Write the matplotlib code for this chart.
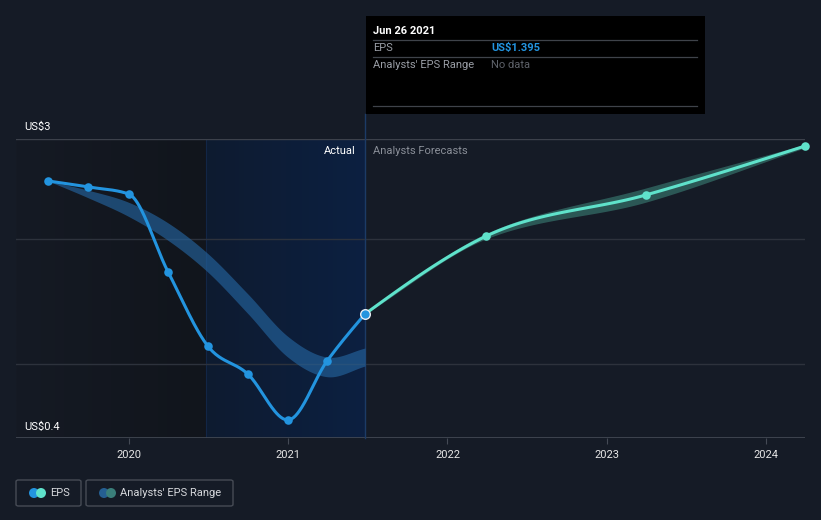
import numpy as np
import pandas as pd
import matplotlib
matplotlib.use("Agg")
import matplotlib.pyplot as plt
from matplotlib.patches import FancyBboxPatch, Rectangle, Ellipse
from matplotlib.lines import Line2D
from matplotlib.colors import LinearSegmentedColormap

plt.rcParams['font.family'] = ['Roboto', 'DejaVu Sans']

# ---------------- data ----------------
eps_dates = ['2019-06-30', '2019-09-30', '2019-12-31', '2020-03-31', '2020-06-30',
             '2020-09-30', '2020-12-31', '2021-03-31', '2021-06-26']
eps_vals = [2.615, 2.56, 2.496, 1.78, 1.102, 0.845, 0.423, 0.964, 1.395]

past_range_high = [2.615, 2.53, 2.42, 2.23, 1.95, 1.58, 1.19, 1.00, 1.083]
past_range_low = [2.615, 2.46, 2.29, 2.07, 1.78, 1.40, 1.00, 0.82, 0.918]

fc_dates = ['2021-06-26', '2022-03-31', '2023-03-31', '2024-03-31']
fc_vals = [1.395, 2.11, 2.486, 2.936]
fc_low = [1.395, 2.085, 2.42, 2.92]
fc_high = [1.395, 2.135, 2.55, 2.95]

x_ticks = [2020, 2021, 2022, 2023, 2024]
y_labels = ['US$3', 'US$0.4']
grid_vals = [3.0, 2.083, 0.937]

tooltip_date = 'Jun 26 2021'
tooltip_eps = 'US$1.395'
tooltip_range = 'No data'


def to_year(ds):
    d = pd.to_datetime(pd.Series(ds))
    days = np.where(d.dt.is_leap_year, 366, 365)
    return (d.dt.year + (d.dt.dayofyear - 1) / days).to_numpy(float)


def hermite(x, y, m, n=40):
    h = np.diff(x)
    xs, ys = [], []
    for i in range(len(h)):
        t = np.linspace(0, 1, n, endpoint=(i == len(h) - 1))
        h00 = 2 * t**3 - 3 * t**2 + 1
        h10 = t**3 - 2 * t**2 + t
        h01 = -2 * t**3 + 3 * t**2
        h11 = t**3 - t**2
        xs.append(x[i] + t * h[i])
        ys.append(h00 * y[i] + h10 * h[i] * m[i] + h01 * y[i + 1] + h11 * h[i] * m[i + 1])
    return np.concatenate(xs), np.concatenate(ys)


def monotone(x, y):
    x = np.asarray(x, float); y = np.asarray(y, float)
    h = np.diff(x); s = np.diff(y) / h
    m = np.zeros_like(y)
    for i in range(1, len(y) - 1):
        if s[i - 1] * s[i] <= 0:
            m[i] = 0
        else:
            p = (s[i - 1] * h[i] + s[i] * h[i - 1]) / (h[i - 1] + h[i])
            m[i] = np.sign(s[i]) * min(abs(s[i - 1]), abs(s[i]), 0.5 * abs(p)) * 2
    m[0] = (3 * s[0] - m[1]) / 2
    m[-1] = (3 * s[-1] - m[-2]) / 2
    return hermite(x, y, m)


def catmull(x, y):
    x = np.asarray(x, float); y = np.asarray(y, float)
    m = np.zeros_like(y)
    s = np.diff(y) / np.diff(x)
    m[1:-1] = (y[2:] - y[:-2]) / (x[2:] - x[:-2])
    m[0] = s[0]
    m[-1] = s[-1]
    return hermite(x, y, m)


ex = to_year(eps_dates)
fx = to_year(fc_dates)

BG = '#151b26'
W, H = 821, 520
fig = plt.figure(figsize=(W / 100, H / 100), dpi=100, facecolor=BG)

L, R, T, B = 16, 805, 139, 438
ax = fig.add_axes([L / W, 1 - B / H, (R - L) / W, (B - T) / H])
ax.set_facecolor(BG)
x0 = 2020 - 113 / 159.3
x1 = 2024 + 39 / 159.3
ymax = 3.0
ymin = 3.0 - 299 * 0.009171
ax.set_xlim(x0, x1)
ax.set_ylim(ymin, ymax)

# shaded regions
split = ex[-1] - 1.0
grad = np.linspace(0, 1, 100).reshape(1, -1)
cm_dark = LinearSegmentedColormap.from_list('d', ['#151a24', '#11151c'])
cm_blue = LinearSegmentedColormap.from_list('b', ['#0e1b30', '#0c2041'])
ax.imshow(grad, extent=[x0, split, ymin, ymax], aspect='auto', cmap=cm_dark, zorder=0)
ax.imshow(grad, extent=[split, ex[-1], ymin, ymax], aspect='auto', cmap=cm_blue, zorder=0)
ax.axvline(split, color='#122646', lw=0.8, zorder=0.5)

# grid
for i, g in enumerate(grid_vals):
    ax.axhline(g, color='#3c414b' if i == 0 else '#2d323c', lw=1, zorder=1)

# past analyst range band
bx, bh = catmull(ex, past_range_high)
_, bl = catmull(ex, past_range_low)
ax.fill_between(bx, bl, bh, color='#24639d', alpha=0.65, lw=0, zorder=2)

# forecast band
fbx, fbh = catmull(fx, fc_high)
_, fbl = catmull(fx, fc_low)
ax.fill_between(fbx, fbl, fbh, color='#2e5e5b', alpha=0.9, lw=0, zorder=2)

# EPS line
lx, ly = monotone(ex, eps_vals)
ax.plot(lx, ly, color='#2394df', lw=2.2, zorder=3, solid_capstyle='round')
ax.scatter(ex[:-1], eps_vals[:-1], s=38, color='#2394df', zorder=4, lw=0)

# forecast line
flx, fly = monotone(fx, fc_vals)
ax.plot(flx, fly, color='#5fe2cb', lw=2.2, zorder=3, solid_capstyle='round')
ax.scatter(fx[1:], fc_vals[1:], s=38, color='#5fe2cb', zorder=4, lw=0, clip_on=False)
ax.scatter([ex[-1]], [eps_vals[-1]], s=48, color='#2394df', edgecolor='#e8eef5', lw=1.0, zorder=5)

# divider line
ax.plot([ex[-1], ex[-1]], [ymin, ymax + 25 * 0.009171], color='#1c3b66', lw=1, zorder=1.5, clip_on=False)

for s in ax.spines.values():
    s.set_visible(False)
ax.axhline(ymin, color='#444a55', lw=1.2, zorder=1)
ax.set_yticks([])
ax.set_xticks(x_ticks)
ax.set_xticklabels([str(t) for t in x_ticks], color='#e6e6e6', fontsize=8)
ax.tick_params(axis='x', length=4, color='#444a55', pad=5)

# y labels
fig.text(24 / W, 1 - 127 / H, y_labels[0], color='#ffffff', fontsize=8, va='center', ha='left')
fig.text(24 / W, 1 - 427 / H, y_labels[1], color='#ffffff', fontsize=8, va='center', ha='left')

# Actual / forecast labels
fig.text(356 / W, 1 - 151 / H, 'Actual', color='#ffffff', fontsize=8, va='center', ha='right')
fig.text(373 / W, 1 - 151 / H, 'Analysts Forecasts', color='#8a8f98', fontsize=8, va='center', ha='left')

# tooltip
fig.patches.append(Rectangle((366 / W, 1 - 114 / H), (705 - 366) / W, (114 - 16) / H,
                             transform=fig.transFigure, facecolor='#000000', edgecolor='none', zorder=5))
for yy in [40, 57, 106]:
    fig.lines.append(Line2D([373 / W, 697 / W], [1 - yy / H, 1 - yy / H], transform=fig.transFigure,
                            color='#3f434a', lw=0.9, zorder=6))
fig.text(373 / W, 1 - 31 / H, tooltip_date, color='#ffffff', fontsize=8, fontweight='bold', va='center', zorder=7)
fig.text(373 / W, 1 - 48 / H, 'EPS', color='#9a9ea6', fontsize=8, va='center', zorder=7)
fig.text(491 / W, 1 - 48 / H, tooltip_eps, color='#2394df', fontsize=8, fontweight='bold', va='center', zorder=7)
fig.text(373 / W, 1 - 65 / H, "Analysts' EPS Range", color='#9a9ea6', fontsize=8, va='center', zorder=7)
fig.text(491 / W, 1 - 65 / H, tooltip_range, color='#5e626a', fontsize=8, va='center', zorder=7)


# legend
def legend_box(x0p, x1p, label, c1, c2):
    fig.patches.append(FancyBboxPatch((x0p / W, 1 - 506 / H), (x1p - x0p) / W, 26 / H,
                                      boxstyle='round,pad=0,rounding_size=0.003',
                                      transform=fig.transFigure, facecolor='none',
                                      edgecolor='#464b55', lw=1))
    cy = 1 - 493 / H
    rx, ry = 5 / W, 5 / H
    fig.patches.append(Ellipse(((x0p + 18) / W, cy), 2 * rx, 2 * ry, transform=fig.transFigure,
                               facecolor=c1, edgecolor='none'))
    fig.patches.append(Ellipse(((x0p + 25) / W, cy), 2 * rx, 2 * ry, transform=fig.transFigure,
                               facecolor=c2, edgecolor='none'))
    fig.text((x0p + 34) / W, cy, label, color='#d6d8dc', fontsize=8, va='center', ha='left')


legend_box(16, 81, 'EPS', '#2394df', '#5fe2cb')
legend_box(86, 233, "Analysts' EPS Range", '#255f92', '#3a7f7a')

fig.savefig('out.png', dpi=100, facecolor=BG)
